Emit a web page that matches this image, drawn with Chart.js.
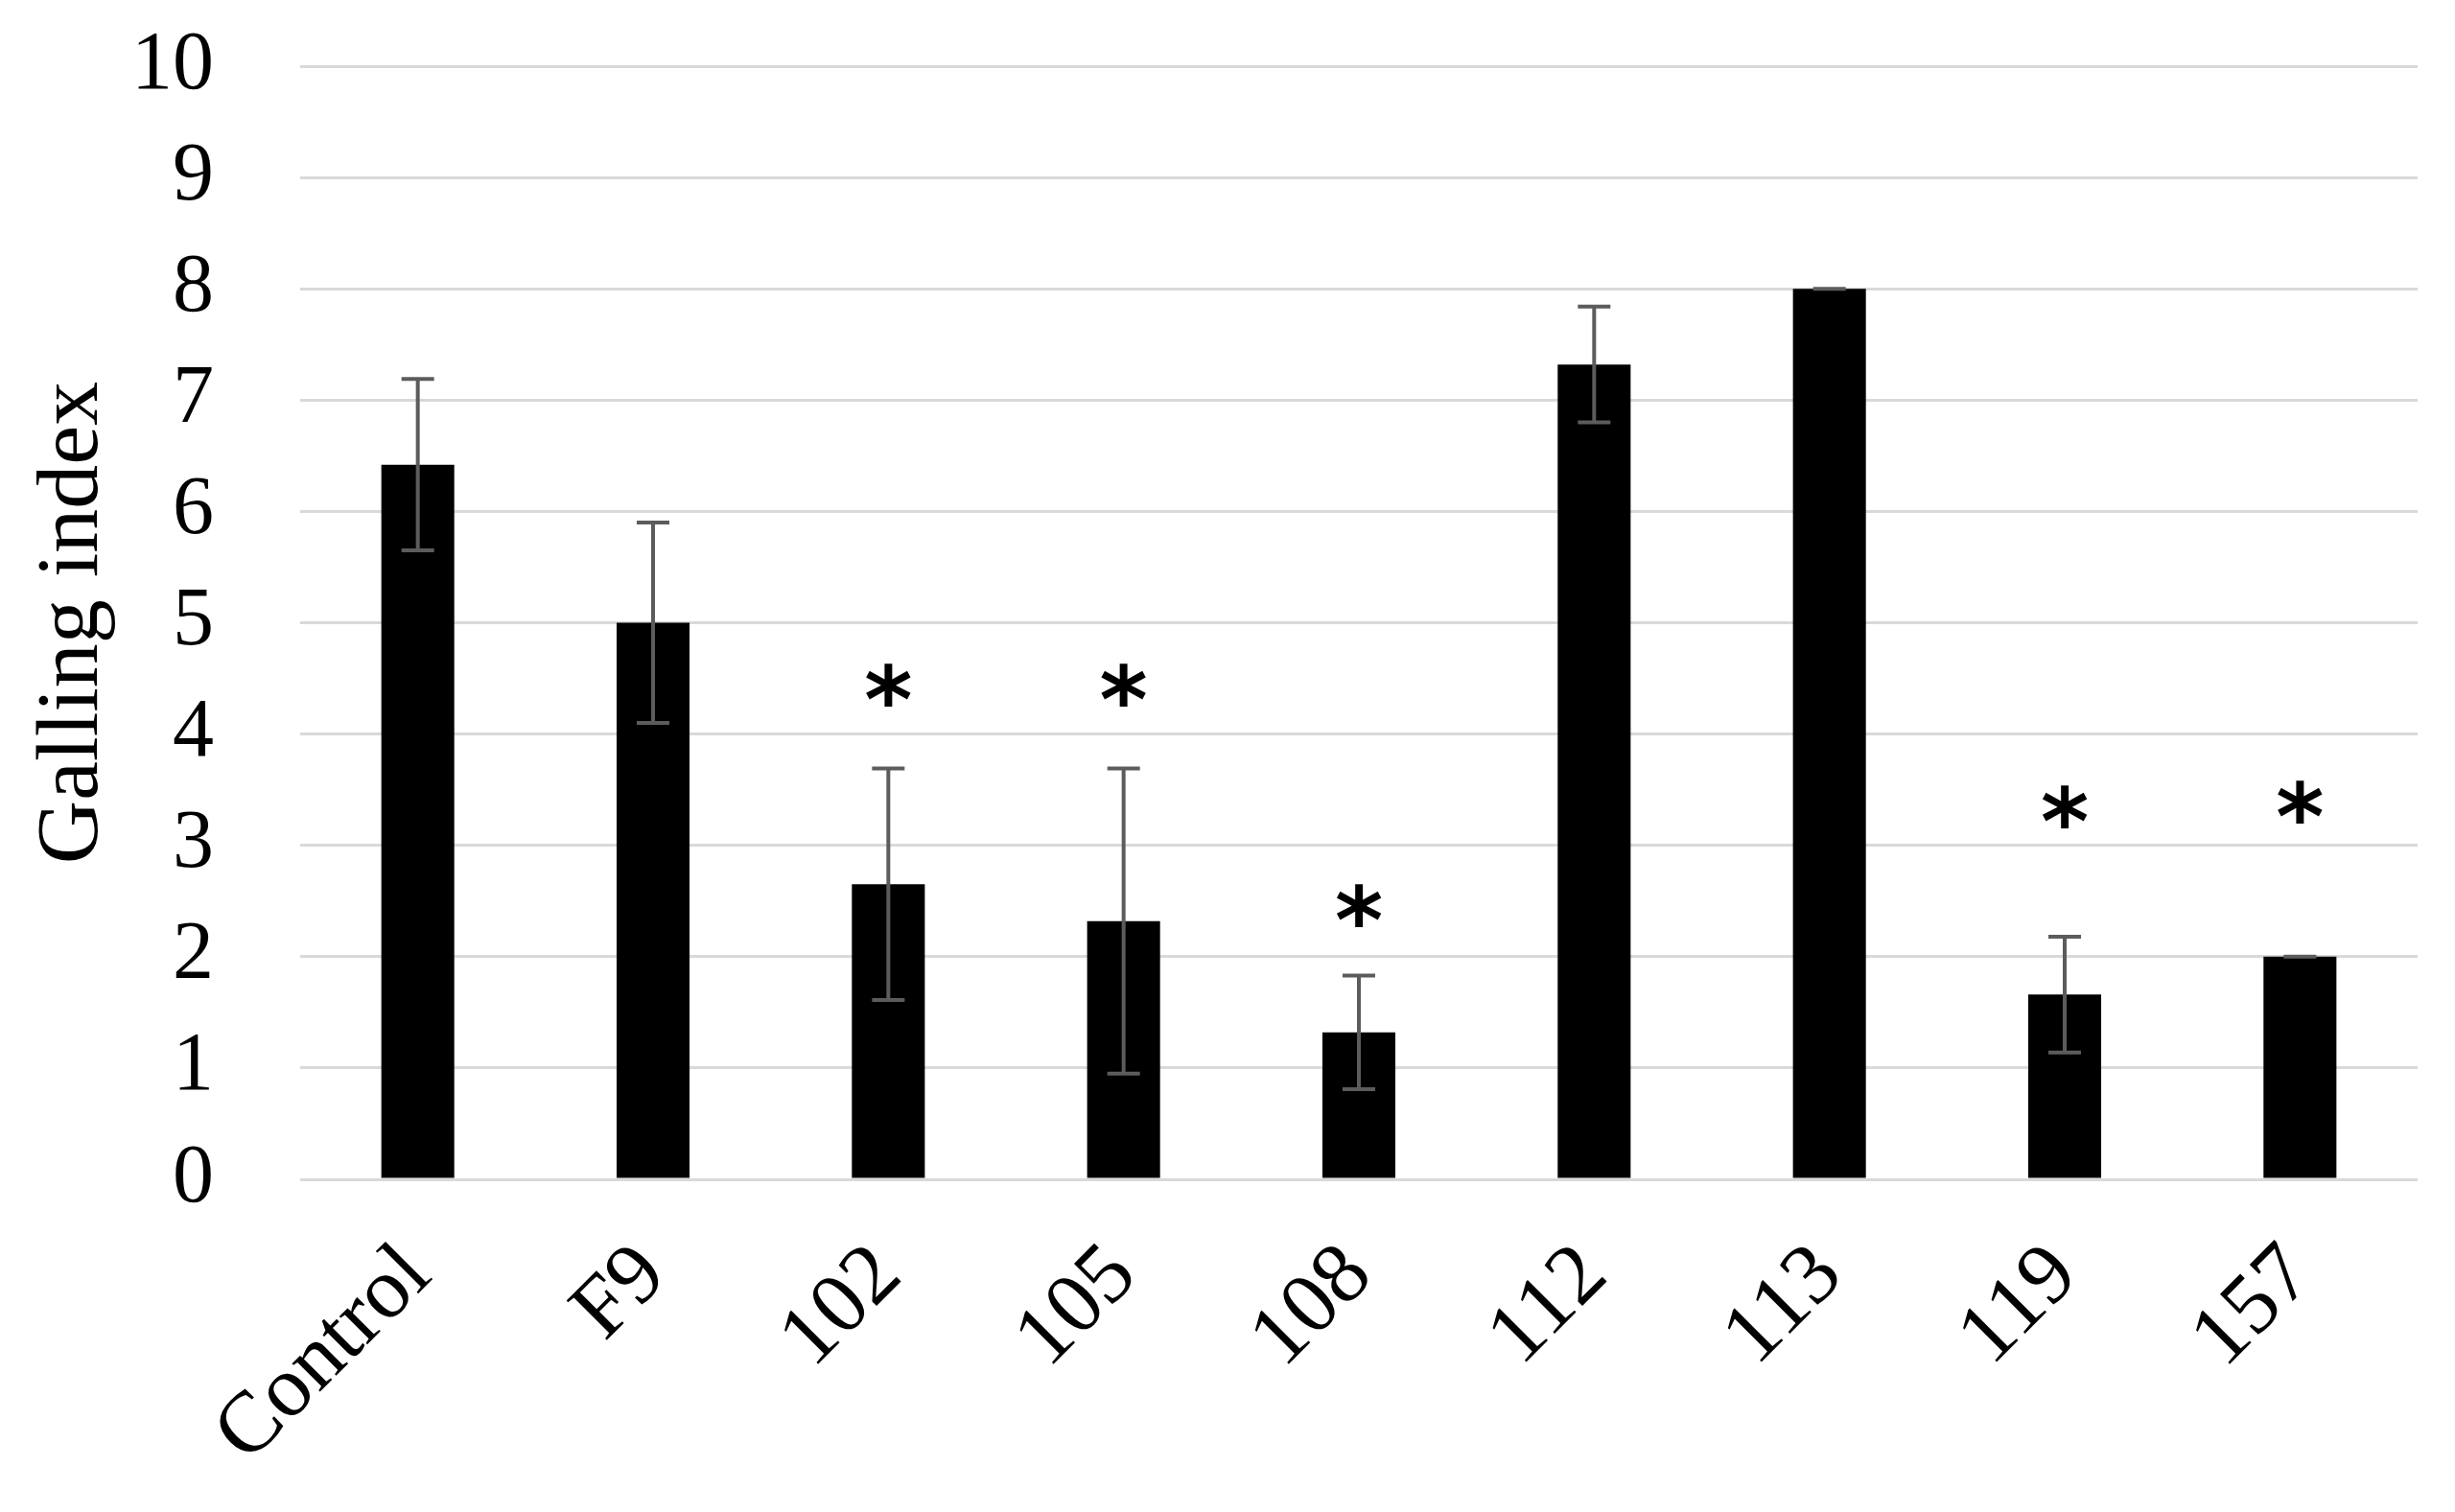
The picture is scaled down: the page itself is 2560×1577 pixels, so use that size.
<!DOCTYPE html>
<html>
<head>
<meta charset="utf-8">
<script src="https://cdn.jsdelivr.net/npm/chart.js@4.4.0/dist/chart.umd.min.js"></script>
<style>
  html, body { margin: 0; padding: 0; background: #fff; }
  #wrap { width: 2560px; height: 1577px; }
</style>
</head>
<body>
<div id="wrap"><canvas id="c" width="2560" height="1577"></canvas></div>
<script>
'use strict';

const categories = ['Control', 'F9', '102', '105', '108', '112', '113', '119', '157'];
const gallingIndex = [6.42, 5.0, 2.65, 2.32, 1.32, 7.32, 8.0, 1.66, 2.0];
const errorValues = [0.77, 0.9, 1.04, 1.37, 0.51, 0.52, 0, 0.52, 0];
// y value where a significance star is centred (null = no star)
const starY = [null, null, 4.44, 4.44, 2.46, null, null, 3.35, 3.39];
const yTicks = [0, 1, 2, 3, 4, 5, 6, 7, 8, 9, 10];

const FONT = '"Liberation Serif", "DejaVu Serif", serif';

// draws the error whiskers and the asterisks above bars
const annotations = {
  id: 'annotations',
  afterDatasetsDraw(chart) {
    const ctx = chart.ctx;
    const x = chart.scales.x;
    const y = chart.scales.y;
    ctx.save();
    ctx.strokeStyle = '#5c5c5c';
    ctx.lineWidth = 4;
    gallingIndex.forEach((v, i) => {
      const cx = x.getPixelForValue(i);
      const e = errorValues[i];
      const top = y.getPixelForValue(v + e);
      const bot = y.getPixelForValue(v - e);
      const cap = 17;
      ctx.beginPath();
      ctx.moveTo(cx, top); ctx.lineTo(cx, bot);
      ctx.moveTo(cx - cap, top); ctx.lineTo(cx + cap, top);
      ctx.moveTo(cx - cap, bot); ctx.lineTo(cx + cap, bot);
      ctx.stroke();
    });
    ctx.fillStyle = '#000';
    ctx.font = 'bold 96px "DejaVu Sans", sans-serif';
    ctx.textAlign = 'center';
    ctx.textBaseline = 'alphabetic';
    const m = ctx.measureText('*');
    const shift = (m.actualBoundingBoxAscent - m.actualBoundingBoxDescent) / 2;
    starY.forEach((s, i) => {
      if (s === null) return;
      ctx.fillText('*', x.getPixelForValue(i), y.getPixelForValue(s) + shift);
    });
    ctx.restore();
  }
};

new Chart(document.getElementById('c'), {
  type: 'bar',
  data: {
    labels: categories,
    datasets: [{
      label: 'Galling index',
      data: gallingIndex,
      backgroundColor: '#000',
      categoryPercentage: 1,
      barPercentage: 0.31
    }]
  },
  options: {
    responsive: false,
    animation: false,
    devicePixelRatio: 1,
    layout: { padding: { top: 69, right: 39, left: 0, bottom: 0 } },
    plugins: {
      legend: { display: false },
      tooltip: { enabled: false }
    },
    scales: {
      x: {
        grid: { display: false },
        border: { display: false },
        ticks: {
          color: '#000',
          font: { family: FONT, size: 90 },
          minRotation: 45,
          maxRotation: 45,
          padding: 40
        },
        afterFit(scale) {
          scale.height = 347;
          scale.paddingLeft = 0;
          scale.paddingRight = 0;
        }
      },
      y: {
        min: 0,
        max: 10,
        afterBuildTicks(scale) { scale.ticks = yTicks.map(v => ({ value: v })); },
        grid: { color: '#d9d9d9', lineWidth: 3, drawTicks: false },
        border: { display: false },
        ticks: {
          color: '#000',
          font: { family: FONT, size: 86 },
          padding: 90
        },
        title: {
          display: true,
          text: 'Galling index',
          color: '#000',
          font: { family: FONT, size: 92 },
          padding: { top: 22, bottom: 0 }
        },
        afterFit(scale) {
          scale.width = 313;
          scale.paddingTop = 0;
          scale.paddingBottom = 0;
        }
      }
    }
  },
  plugins: [annotations]
});
</script>
</body>
</html>
